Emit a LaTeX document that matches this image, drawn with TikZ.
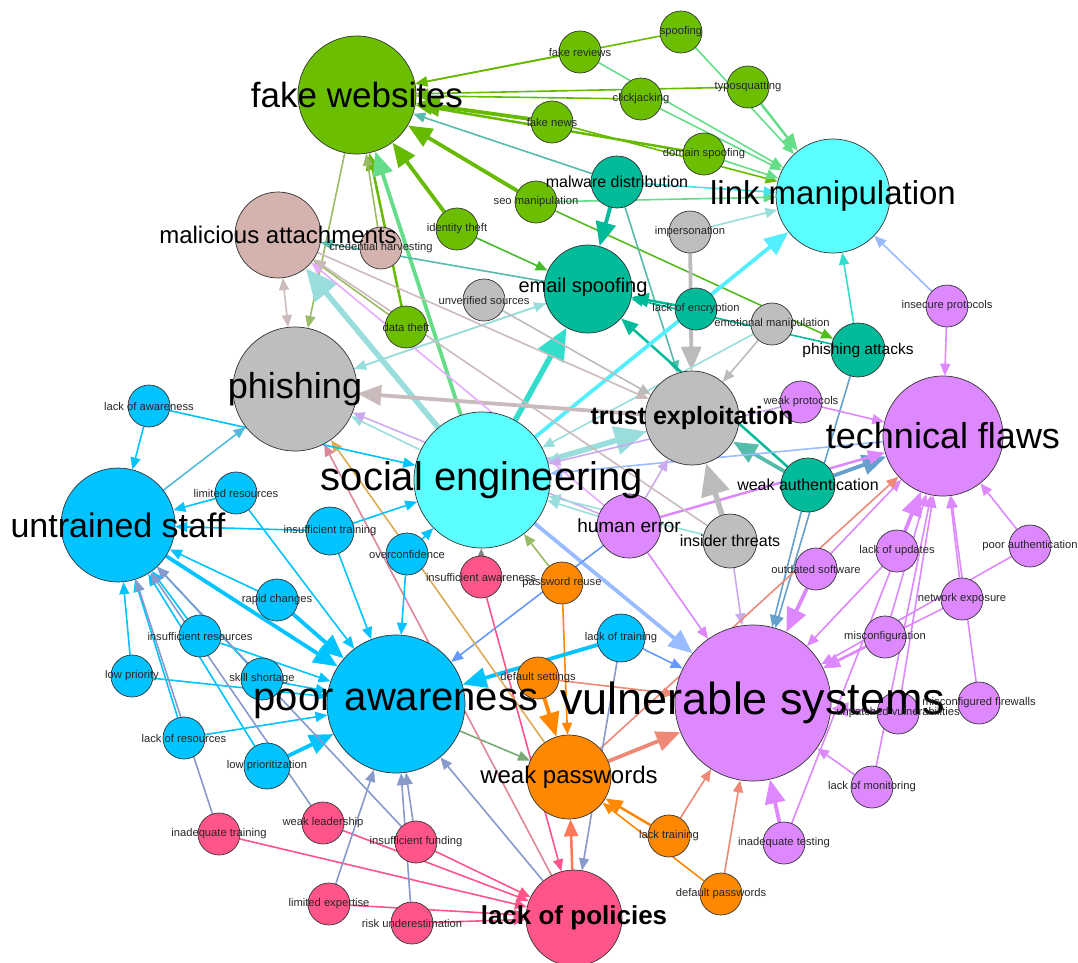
\documentclass[tikz,border=0pt]{standalone}
\usepackage{fontspec}
\setmainfont{Liberation Sans}
\usetikzlibrary{arrows.meta}
\pgfdeclarelayer{edges}
\pgfdeclarelayer{labels}
\pgfsetlayers{edges,main,labels}
\definecolor{cGreen}{HTML}{6BBF00}
\definecolor{cCyan}{HTML}{5CFFFF}
\definecolor{cRosy}{HTML}{D4B2AE}
\definecolor{cGrey}{HTML}{BEBEBE}
\definecolor{cTeal}{HTML}{00BB99}
\definecolor{cPurple}{HTML}{DD88FF}
\definecolor{cBlue}{HTML}{00C3FF}
\definecolor{cRed}{HTML}{FF5588}
\definecolor{cOrange}{HTML}{FF8800}
\definecolor{eGreen}{HTML}{66BB00}
\definecolor{eLGreen}{HTML}{66DD88}
\definecolor{eOlive}{HTML}{99BB66}
\definecolor{eTeal}{HTML}{00BB99}
\definecolor{eTealB}{HTML}{55BBAA}
\definecolor{eLTeal}{HTML}{99DDDD}
\definecolor{eCyan}{HTML}{55EEFF}
\definecolor{eTurq}{HTML}{33DDCC}
\definecolor{eGrey}{HTML}{BBBBBB}
\definecolor{eRosyG}{HTML}{CCBBBB}
\definecolor{eLBlue}{HTML}{99BBFF}
\definecolor{eSteel}{HTML}{66A0CC}
\definecolor{eCorn}{HTML}{6699FF}
\definecolor{ePurple}{HTML}{DD88FF}
\definecolor{eLav}{HTML}{CCAAEE}
\definecolor{eSalmon}{HTML}{EE8877}
\definecolor{eSlate}{HTML}{8899CC}
\definecolor{ePink}{HTML}{FF5588}
\definecolor{eMauve}{HTML}{DD8899}
\definecolor{eSky}{HTML}{00C3FF}
\definecolor{eSkyB}{HTML}{55BBDD}
\definecolor{eOrange}{HTML}{FF8800}
\definecolor{eTan}{HTML}{DDAA55}
\definecolor{eSage}{HTML}{77AA77}
\definecolor{eRed}{HTML}{FF7755}
\newcommand{\fsz}[1]{\fontsize{#1}{#1}\selectfont}
\begin{document}
\begin{tikzpicture}[x=1pt,y=-1pt,
  nd/.style={circle,draw=black!80,line width=0.7pt,inner sep=0pt,minimum size=#1},
  sm/.style={nd=42pt},
  lb/.style={inner sep=0pt,text=black},
  sl/.style={inner sep=0pt,text=black!85,font=\fsz{11.2}},
  e1/.style={line width=1.6pt,-{Triangle[length=12pt,width=10pt]}},
  e2/.style={line width=2.5pt,-{Triangle[length=17pt,width=14pt]}},
  e3/.style={line width=3.8pt,-{Triangle[length=24pt,width=20pt]}},
  e4/.style={line width=5.5pt,-{Triangle[length=32pt,width=28pt]}},
  bi/.style={line width=1.6pt,{Triangle[length=12pt,width=10pt]}-{Triangle[length=12pt,width=10pt]}}]
\useasboundingbox (0,0) rectangle (1078,962);
% ---------- big nodes
\node[nd=118pt,fill=cGreen] (fw) at (357,95) {};
\node[nd=114pt,fill=cCyan] (lm) at (833,196) {};
\node[nd=86pt,fill=cRosy] (ma) at (278,235) {};
\node[nd=88pt,fill=cTeal] (es) at (588,289) {};
\node[nd=124pt,fill=cGrey] (ph) at (295,389) {};
\node[nd=94pt,fill=cGrey] (te) at (692,418) {};
\node[nd=120pt,fill=cPurple] (tf) at (943,436) {};
\node[nd=136pt,fill=cCyan] (se) at (482,480) {};
\node[nd=114pt,fill=cBlue] (us) at (118,525) {};
\node[nd=138pt,fill=cBlue] (pa) at (396,704) {};
\node[nd=156pt,fill=cPurple] (vs) at (753,703) {};
\node[nd=84pt,fill=cOrange] (wp) at (569,777) {};
\node[nd=96pt,fill=cRed] (lp) at (574,918) {};
% ---------- medium nodes
\node[nd=52pt,fill=cTeal] (md) at (617,182) {};
\node[nd=54pt,fill=cTeal] (pat) at (858,350) {};
\node[nd=54pt,fill=cTeal] (wa) at (808,485) {};
\node[nd=64pt,fill=cPurple] (he) at (629,526) {};
\node[nd=54pt,fill=cGrey] (it) at (730,541) {};
% ---------- small nodes
\node[sm,fill=cGreen] (fr) at (580,52) {};
\node[sm,fill=cGreen] (sp) at (681,32) {};
\node[sm,fill=cGreen] (ty) at (748,87) {};
\node[sm,fill=cGreen] (cj) at (641,99) {};
\node[sm,fill=cGreen] (fn) at (552,122) {};
\node[sm,fill=cGreen] (ds) at (704,154) {};
\node[sm,fill=cGreen] (seo) at (536,202) {};
\node[sm,fill=cGreen] (idt) at (457,229) {};
\node[sm,fill=cGreen] (dt) at (406,327) {};
\node[sm,fill=cRosy] (ch) at (381,248) {};
\node[sm,fill=cGrey] (uv) at (484,300) {};
\node[sm,fill=cGrey] (imp) at (690,232) {};
\node[sm,fill=cGrey] (em) at (772,324) {};
\node[sm,fill=cTeal] (le) at (696,309) {};
\node[sm,fill=cPurple] (ip) at (947,306) {};
\node[sm,fill=cPurple] (wpr) at (801,402) {};
\node[sm,fill=cPurple] (os) at (816,569) {};
\node[sm,fill=cPurple] (lu) at (897,551) {};
\node[sm,fill=cPurple] (pau) at (1030,546) {};
\node[sm,fill=cPurple] (ne) at (962,599) {};
\node[sm,fill=cPurple] (mc) at (885,637) {};
\node[sm,fill=cPurple] (mf) at (979,703) {};
\node[sm,fill=cPurple] (uvn) at (898,713) {};
\node[sm,fill=cPurple] (lmo) at (872,787) {};
\node[sm,fill=cPurple] (itst) at (784,843) {};
\node[sm,fill=cOrange] (pr) at (562,583) {};
\node[sm,fill=cOrange] (dset) at (538,678) {};
\node[sm,fill=cOrange] (lt) at (669,836) {};
\node[sm,fill=cOrange] (dp) at (721,894) {};
\node[nd=48pt,fill=cBlue] (ltr) at (621,638) {};
\node[sm,fill=cBlue] (law) at (149,406) {};
\node[sm,fill=cBlue] (lr) at (236,493) {};
\node[nd=48pt,fill=cBlue] (itr) at (330,531) {};
\node[sm,fill=cBlue] (oc) at (407,554) {};
\node[sm,fill=cBlue] (rc) at (277,600) {};
\node[sm,fill=cBlue] (ires) at (200,636) {};
\node[sm,fill=cBlue] (ss) at (262,679) {};
\node[sm,fill=cBlue] (lpr) at (132,676) {};
\node[sm,fill=cBlue] (lres) at (184,738) {};
\node[nd=46pt,fill=cBlue] (lpz) at (267,766) {};
\node[sm,fill=cRed] (ia) at (481,577) {};
\node[sm,fill=cRed] (wl) at (323,823) {};
\node[sm,fill=cRed] (itg) at (219,834) {};
\node[sm,fill=cRed] (ifd) at (416,842) {};
\node[sm,fill=cRed] (lex) at (329,904) {};
\node[sm,fill=cRed] (ru) at (412,923) {};
% ---------- edges
\begin{pgfonlayer}{edges}
% green cluster -> fake websites
\draw[e1,eGreen] (sp) -- (fw);
\draw[e1,eGreen] (fr) -- (fw);
\draw[e1,eGreen] (ty) -- (fw);
\draw[e1,eGreen] (cj) -- (fw);
\draw[e3,eGreen] (fn) -- (fw);
\draw[e2,eGreen] (ds) -- (fw);
\draw[e3,eGreen] (seo) -- (fw);
\draw[e3,eGreen] (idt) -- (fw);
\draw[e2,eGreen] (dt) -- (fw);
\draw[e1,eOlive] (ch) -- (fw);
\draw[e3,eLGreen] (se) -- (fw);
\draw[e1,eTealB] (md) -- (fw);
% green cluster -> link manipulation
\draw[e1,eLGreen] (sp) -- (lm);
\draw[e1,eLGreen] (fr) -- (lm);
\draw[e2,eLGreen] (ty) -- (lm);
\draw[e1,eLGreen] (cj) -- (lm);
\draw[e1,eGreen] (fn) -- (lm);
\draw[e1,eLGreen] (ds) -- (lm);
\draw[e1,eLGreen] (seo) -- (lm);
\draw[e1,eGreen!70!eTeal] (idt) -- (es);
\draw[e1,eGreen!80!eTeal] (seo) -- (pat);
\draw[e1,eOlive] (fw) -- (ph);
% email spoofing cluster
\draw[e3,eTeal] (md) -- (es);
\draw[e1,eCyan!80!eTeal] (md) -- (lm);
\draw[e1,eTealB] (md) -- (te);
\draw[e3,eGrey] (imp) -- (te);
\draw[e1,eLTeal] (imp) -- (lm);
\draw[e2,eTeal] (le) -- (es);
\draw[e1,eGrey] (em) -- (te);
\draw[e1,eLTeal] (em) -- (se);
\draw[e1,eTurq] (pat) -- (lm);
\draw[e1,eTeal] (pat) -- (es);
\draw[e1,eSteel] (pat) -- (vs);
\draw[e3,eTealB] (wa) -- (te);
\draw[e2,eTeal] (wa) -- (es);
\draw[e3,eSteel] (wa) -- (tf);
\draw[e1,eSteel] (wa) -- (vs);
\draw[e1,eLBlue] (ip) -- (lm);
\draw[e1,ePurple] (ip) -- (tf);
% social engineering hub
\draw[e4,eTurq] (se) -- (es);
\draw[e3,eCyan] (se) -- (lm);
\draw[e4,eLTeal] (se) -- (ma);
\draw[e4,eLTeal] (se) -- (te);
\draw[e3,eRosyG!80!eGrey] (te) -- (ph);
\draw[e1,eLTeal] (te) -- (se);
\draw[e1,eLBlue] (tf) -- (se);
\draw[e3,eLBlue] (se) -- (vs);
\draw[e1,eLTeal] (se) -- (ph);
\draw[e1,eLTeal] (ph) -- (es);
\draw[e1,eLTeal] (es) -- (ph);
\draw[e1,eTealB] (es) -- (ma);
\draw[bi,eRosyG] (ma) -- (ph);
\draw[e1,eRosyG] (ma) -- (te);
\draw[e1,eGrey] (uv) -- (te);
\draw[e1,eOlive] (dt) -- (ma);
% human error / insider threats
\draw[e2,ePurple] (he) -- (tf);
\draw[e1,ePurple] (he) -- (vs);
\draw[e1,eLav] (he) -- (te);
\draw[e1,eLTeal] (he) -- (se);
\draw[e1,eCorn] (he) -- (pa);
\draw[e1,ePurple!70] (he) -- (ma);
\draw[e1,eLav] (he) -- (ph);
\draw[e4,eGrey] (it) -- (te);
\draw[e1,eLav] (it) -- (vs);
\draw[e1,eRosyG] (it) -- (ma);
\draw[e1,eLTeal] (it) -- (se);
% technical flaws cluster
\draw[e1,ePurple] (wpr) -- (tf);
\draw[e1,eLav] (wpr) -- (se);
\draw[e1,ePurple] (os) -- (tf);
\draw[e3,ePurple] (os) -- (vs);
\draw[e3,ePurple] (lu) -- (tf);
\draw[e1,ePurple] (lu) -- (vs);
\draw[e1,ePurple] (pau) -- (tf);
\draw[e1,ePurple] (pau) -- (vs);
\draw[e1,ePurple] (ne) -- (tf);
\draw[e1,ePurple] (ne) -- (vs);
\draw[e1,ePurple] (mc) -- (tf);
\draw[e2,ePurple] (mc) -- (vs);
\draw[e1,ePurple] (mf) -- (tf);
\draw[e1,ePurple] (uvn) -- (tf);
\draw[e2,ePurple] (uvn) -- (vs);
\draw[e1,ePurple] (lmo) -- (vs);
\draw[e1,ePurple] (lmo) -- (tf);
\draw[e3,ePurple] (itst) -- (vs);
\draw[e1,ePurple] (itst) -- (tf);
% weak passwords cluster
\draw[e1,eSalmon] (wp) -- (tf);
\draw[e3,eSalmon] (wp) -- (vs);
\draw[e1,eSalmon] (dset) -- (vs);
\draw[e3,eOrange] (dset) -- (wp);
\draw[e1,eOrange] (pr) -- (wp);
\draw[e1,eOlive] (pr) -- (se);
\draw[e3,eSky] (ltr) -- (pa);
\draw[e1,eCorn] (ltr) -- (vs);
\draw[e1,eSlate] (ltr) -- (lp);
\draw[e2,eOrange] (lt) -- (wp);
\draw[e1,eSalmon] (lt) -- (vs);
\draw[e1,eOrange] (dp) -- (wp);
\draw[e1,eSalmon] (dp) -- (vs);
\draw[e2,eRed] (lp) -- (wp);
\draw[e1,eSage] (pa) -- (wp);
\draw[e1,ePink] (ia) -- (lp);
\draw[e1,eGrey!70!black] (ia) -- (se);
\draw[e1,eMauve] (lp) -- (ph);
\draw[e1,eTan] (wp) -- (ph);
% untrained staff / poor awareness
\draw[e1,eSky] (law) -- (us);
\draw[e1,eSky] (law) -- (se);
\draw[e1,eSkyB] (us) -- (ph);
\draw[e1,eSky] (lr) -- (us);
\draw[e1,eSky] (lr) -- (pa);
\draw[e1,eSky] (itr) -- (us);
\draw[e1,eSky] (itr) -- (se);
\draw[e1,eSky] (itr) -- (pa);
\draw[e1,eSky] (oc) -- (pa);
\draw[e1,eSky] (oc) -- (se);
\draw[e1,eSky] (rc) -- (us);
\draw[e3,eSky] (rc) -- (pa);
\draw[e1,eSky] (ires) -- (us);
\draw[e1,eSky] (ires) -- (pa);
\draw[e1,eSky] (ss) -- (us);
\draw[e1,eSky] (ss) -- (pa);
\draw[e1,eSky] (lpr) -- (us);
\draw[e1,eSky] (lpr) -- (pa);
\draw[e1,eSky] (lres) -- (us);
\draw[e1,eSky] (lres) -- (pa);
\draw[e1,eSky] (lpz) -- (us);
\draw[e3,eSky] (lpz) -- (pa);
\draw[e3,eSky] (us) -- (pa);
% lack of policies cluster
\draw[e1,ePink] (itg) -- (lp);
\draw[e1,eSlate] (itg) -- (us);
\draw[e1,ePink] (wl) -- (lp);
\draw[e1,eSlate] (wl) -- (us);
\draw[e1,ePink] (ifd) -- (lp);
\draw[e1,eSlate] (ifd) -- (pa);
\draw[e1,eSlate] (ifd) -- (us);
\draw[e1,ePink] (lex) -- (lp);
\draw[e1,eSlate] (lex) -- (pa);
\draw[e1,ePink] (ru) -- (lp);
\draw[e1,eSlate] (ru) -- (pa);
\draw[e1,eSlate] (lp) -- (pa);
\end{pgfonlayer}
% ---------- labels
\begin{pgfonlayer}{labels}
\node[lb,font=\fsz{35}] (fwL) at (fw) {fake websites};
\node[lb,font=\fsz{33}] (lmL) at (lm) {link manipulation};
\node[lb,font=\fsz{24}] (maL) at (ma) {malicious attachments};
\node[lb,font=\fsz{20}] (esL) at (583,287) {email spoofing};
\node[lb,font=\fsz{36}] (phL) at (ph) {phishing};
\node[lb,font=\bfseries\fsz{25}] (teL) at (te) {trust exploitation};
\node[lb,font=\fsz{36}] (tfL) at (tf) {technical flaws};
\node[lb,font=\fsz{40}] (seL) at (se) {social engineering};
\node[lb,font=\fsz{34}] (usL) at (us) {untrained staff};
\node[lb,font=\fsz{40}] (paL) at (pa) {poor awareness};
\node[lb,font=\fsz{45}] (vsL) at (vs) {vulnerable systems};
\node[lb,font=\fsz{24}] (wpL) at (wp) {weak passwords};
\node[lb,font=\bfseries\fsz{26}] (lpL) at (lp) {lack of policies};
\node[lb,font=\fsz{16}] (mdL) at (md) {malware distribution};
\node[lb,font=\fsz{15.5}] (patL) at (pat) {phishing attacks};
\node[lb,font=\fsz{16}] (waL) at (wa) {weak authentication};
\node[lb,font=\fsz{19}] (heL) at (he) {human error};
\node[lb,font=\fsz{16}] (itL) at (it) {insider threats};
\node[sl] (frL) at (fr) {fake reviews};
\node[sl] (spL) at (sp) {spoofing};
\node[sl] (tyL) at (ty) {typosquatting};
\node[sl] (cjL) at (cj) {clickjacking};
\node[sl] (fnL) at (fn) {fake news};
\node[sl] (dsL) at (ds) {domain spoofing};
\node[sl] (seoL) at (seo) {seo manipulation};
\node[sl] (idtL) at (idt) {identity theft};
\node[sl] (dtL) at (dt) {data theft};
\node[sl] (chL) at (ch) {credential harvesting};
\node[sl] (uvL) at (uv) {unverified sources};
\node[sl] (impL) at (imp) {impersonation};
\node[sl] (emL) at (em) {emotional manipulation};
\node[sl] (leL) at (le) {lack of encryption};
\node[sl] (ipL) at (ip) {insecure protocols};
\node[sl] (wprL) at (wpr) {weak protocols};
\node[sl] (osL) at (os) {outdated software};
\node[sl] (luL) at (lu) {lack of updates};
\node[sl] (pauL) at (pau) {poor authentication};
\node[sl] (neL) at (ne) {network exposure};
\node[sl] (mcL) at (mc) {misconfiguration};
\node[sl] (mfL) at (mf) {misconfigured firewalls};
\node[sl] (uvnL) at (uvn) {unpatched vulnerabilities};
\node[sl] (lmoL) at (lmo) {lack of monitoring};
\node[sl] (itstL) at (itst) {inadequate testing};
\node[sl] (prL) at (pr) {password reuse};
\node[sl] (dsetL) at (dset) {default settings};
\node[sl] (ltL) at (lt) {lack training};
\node[sl] (dpL) at (dp) {default passwords};
\node[sl] (ltrL) at (ltr) {lack of training};
\node[sl] (lawL) at (law) {lack of awareness};
\node[sl] (lrL) at (lr) {limited resources};
\node[sl] (itrL) at (itr) {insufficient training};
\node[sl] (ocL) at (oc) {overconfidence};
\node[sl] (rcL) at (rc) {rapid changes};
\node[sl] (iresL) at (ires) {insufficient resources};
\node[sl] (ssL) at (ss) {skill shortage};
\node[sl] (lprL) at (lpr) {low priority};
\node[sl] (lresL) at (lres) {lack of resources};
\node[sl] (lpzL) at (lpz) {low prioritization};
\node[sl] (iaL) at (ia) {insufficient awareness};
\node[sl] (wlL) at (wl) {weak leadership};
\node[sl] (itgL) at (itg) {inadequate training};
\node[sl] (ifdL) at (ifd) {insufficient funding};
\node[sl] (lexL) at (lex) {limited expertise};
\node[sl] (ruL) at (ru) {risk underestimation};
\end{pgfonlayer}
\end{tikzpicture}
\end{document}
